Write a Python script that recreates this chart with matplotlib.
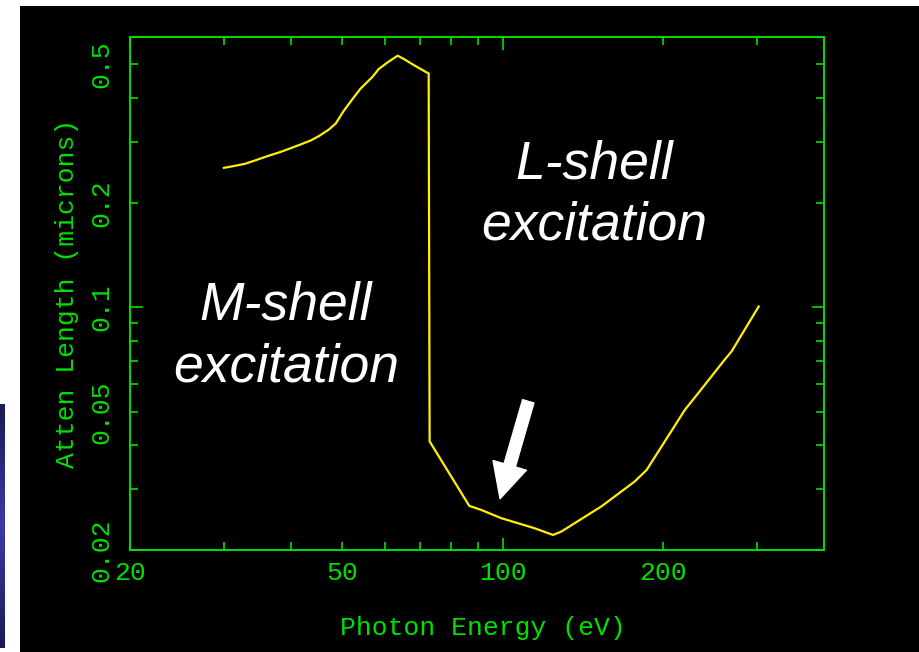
import numpy as np
import matplotlib
matplotlib.use("Agg")
import matplotlib.pyplot as plt
from matplotlib.patches import FancyArrowPatch
from matplotlib.colors import LinearSegmentedColormap
from matplotlib.ticker import FixedLocator, FuncFormatter

# Attenuation length of aluminium across the L edge
energy_ev = [30.0, 31.3, 32.9, 34.4, 36.1, 38.3, 40.0, 41.7, 43.6, 45.2,
             47.2, 48.6, 50.4, 52.6, 54.1, 57.0, 58.5, 60.8, 63.5, 65.3,
             68.1, 71.7, 72.6, 72.9, 86.5, 91.0, 99.3, 114.7, 124.2, 128.7,
             153.0, 176.7, 186.0, 219.5, 232.7, 259.3, 268.7, 301.7]
atten_um = [0.252, 0.255, 0.259, 0.265, 0.272, 0.280, 0.287, 0.294, 0.302, 0.311,
            0.325, 0.338, 0.369, 0.403, 0.426, 0.461, 0.485, 0.507, 0.530, 0.518,
            0.498, 0.476, 0.471, 0.0411, 0.0268, 0.0261, 0.0247, 0.0231, 0.0221, 0.0226,
            0.0267, 0.0315, 0.0340, 0.0507, 0.0567, 0.0700, 0.0748, 0.1005]

x_major = [100]
x_minor = [20, 30, 40, 50, 60, 70, 80, 90, 200, 300]
x_labels = {20: "20", 50: "50", 100: "100", 200: "200"}
y_major = [0.1]
y_minor = [0.02, 0.03, 0.04, 0.05, 0.06, 0.07, 0.08, 0.09, 0.2, 0.3, 0.4, 0.5]
y_labels = {0.02: "0.02", 0.05: "0.05", 0.1: "0.1", 0.2: "0.2", 0.5: "0.5"}

GREEN = "#00e000"
YELLOW = "#fff000"
W, H = 920, 652

plt.rcParams["font.family"] = ["Liberation Mono", "DejaVu Sans Mono"]
plt.rcParams["font.size"] = 19

fig = plt.figure(figsize=(W / 100, H / 100), dpi=100, facecolor="white")

# black slide panel behind the plot
bg = fig.add_axes([20 / W, 0, 1 - 20 / W, 1 - 6 / H], zorder=-10)
bg.set_facecolor("black")
bg.set_xticks([])
bg.set_yticks([])
for s in bg.spines.values():
    s.set_visible(False)

# blue strip at the far left edge
strip = fig.add_axes([0, 4 / H, 5 / W, (648 - 404) / H], zorder=-10)
grad = np.concatenate([np.linspace(0, 1, 50), np.linspace(1, 0, 50)])[:, None]
strip.imshow(grad, aspect="auto",
             cmap=LinearSegmentedColormap.from_list("navy", ["#1a1a55", "#3a3aa8"]))
strip.axis("off")

left, right, top, bottom = 130, 824, 37, 550
ax = fig.add_axes([left / W, (H - bottom) / H, (right - left) / W, (bottom - top) / H])
ax.set_facecolor("black")
ax.set_xscale("log")
ax.set_yscale("log")
ax.set_xlim(20, 400)
ax.set_ylim(0.02, 0.6)

ax.plot(energy_ev, atten_um, color=YELLOW, lw=1.6, solid_joinstyle="miter")

for s in ax.spines.values():
    s.set_color(GREEN)
    s.set_linewidth(1.4)

ax.xaxis.set_major_locator(FixedLocator(x_major))
ax.xaxis.set_minor_locator(FixedLocator(x_minor))
ax.yaxis.set_major_locator(FixedLocator(y_major))
ax.yaxis.set_minor_locator(FixedLocator(y_minor))
fx = FuncFormatter(lambda v, p: x_labels.get(int(round(v)), ""))
fy = FuncFormatter(lambda v, p: y_labels.get(round(v, 3), ""))
ax.xaxis.set_major_formatter(fx)
ax.xaxis.set_minor_formatter(fx)
ax.yaxis.set_major_formatter(fy)
ax.yaxis.set_minor_formatter(fy)

ax.tick_params(which="both", direction="in", top=True, right=True,
               color=GREEN, labelcolor=GREEN, width=1.2, labelsize=19)
ax.tick_params(which="major", length=9)
ax.tick_params(which="minor", length=5.5)
ax.tick_params(axis="x", which="both", pad=8)
ax.tick_params(axis="y", which="both", pad=12, labelrotation=90)
for lbl in ax.get_yticklabels(which="both"):
    lbl.set_va("center")

ax.set_xlabel("Photon Energy (eV)", color=GREEN, fontsize=19)
ax.xaxis.set_label_coords(0.509, -0.128)
ax.set_ylabel("Atten Length (microns)", color=GREEN, fontsize=19)
ax.yaxis.set_label_coords(-0.074, 0.5)

sans = ["Liberation Sans", "DejaVu Sans"]
ax.text(0.6686, 0.6043, "L-shell\nexcitation", transform=ax.transAxes,
        color="white", fontsize=38.5, style="italic", family=sans,
        ha="center", va="baseline", multialignment="center", linespacing=1.3)
ax.text(0.2248, 0.3281, "M-shell\nexcitation", transform=ax.transAxes,
        color="white", fontsize=38.5, style="italic", family=sans,
        ha="center", va="baseline", multialignment="center", linespacing=1.3)

arrow = FancyArrowPatch((111.6, 0.0536), (98.8, 0.0281),
                        arrowstyle="simple,head_length=25,head_width=25,tail_width=8.5",
                        mutation_scale=1, shrinkA=0, shrinkB=0,
                        color="white", zorder=5)
ax.add_patch(arrow)

fig.savefig("out.png", dpi=100, facecolor=fig.get_facecolor())
